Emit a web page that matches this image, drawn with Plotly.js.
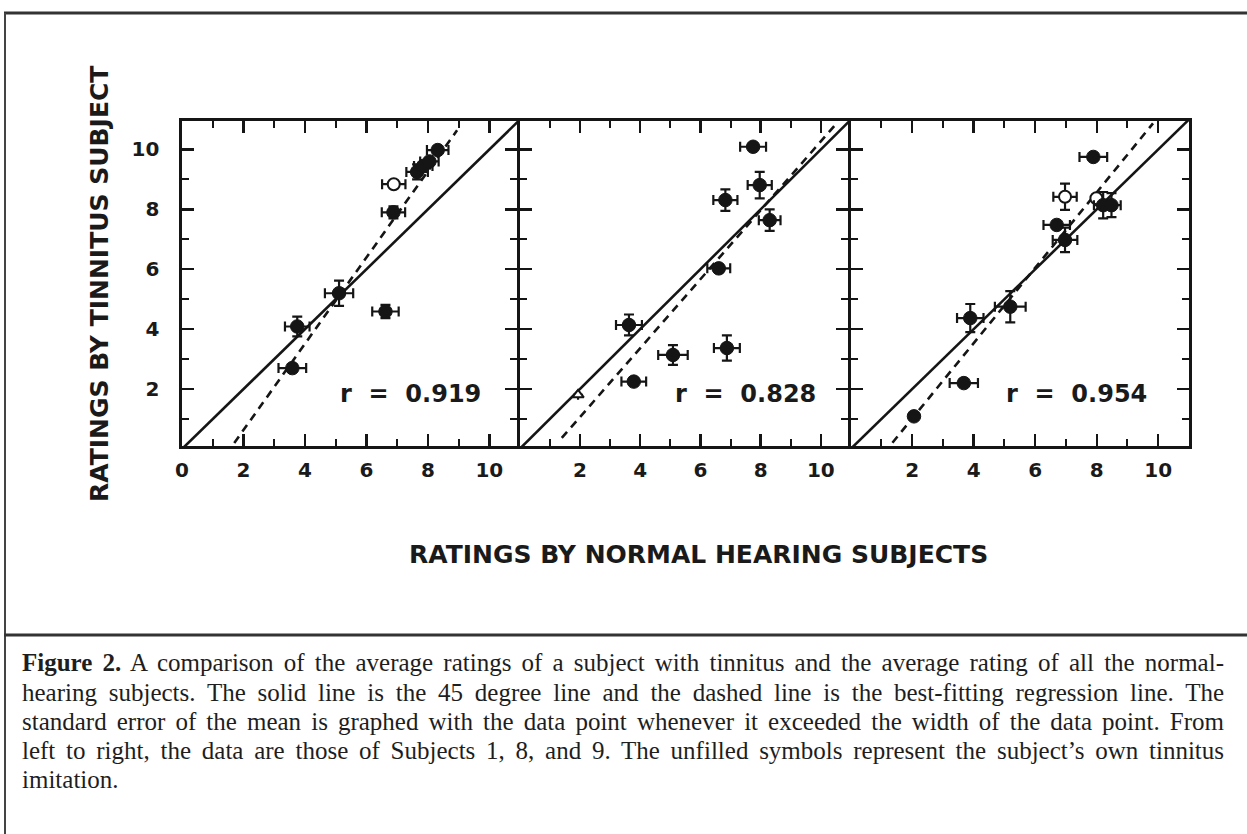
<!DOCTYPE html>
<html>
<head>
<meta charset="utf-8">
<script src="https://cdn.plot.ly/plotly-3.0.1.min.js"></script>
<style>
  html, body { margin: 0; padding: 0; background: #ffffff; }
  #chart { width: 1247px; height: 834px; }
</style>
</head>
<body>
<div id="chart"></div>
<script>
// ---------------- DATA ----------------
// Subject 1
const s1FilledX  = [8.32, 7.65, 7.85, 8.05, 6.88, 5.11, 3.75, 6.62, 3.59];
const s1FilledY  = [9.98, 9.25, 9.45, 9.60, 7.90, 5.20, 4.09, 4.59, 2.70];
const s1FilledEx = [0.35, 0.35, 0.30, 0.30, 0.38, 0.46, 0.40, 0.43, 0.45];
const s1FilledEy = [null, 0.25, null, null, 0.20, 0.42, 0.33, 0.22, 0.12];
const s1OpenX  = [6.89];
const s1OpenY  = [8.84];
const s1OpenEx = [0.38];
const s1OpenEy = [null];
const s1FitX = [1.70, 8.95];
const s1FitY = [0.20, 10.64];

// Subject 8
const s8FilledX  = [7.75, 7.97, 6.83, 8.30, 6.61, 3.63, 5.09, 6.88, 3.79];
const s8FilledY  = [10.09, 8.81, 8.31, 7.64, 6.03, 4.14, 3.14, 3.37, 2.25];
const s8FilledEx = [0.43, 0.40, 0.40, 0.36, 0.38, 0.43, 0.49, 0.43, 0.41];
const s8FilledEy = [null, 0.44, 0.36, 0.36, 0.12, 0.35, 0.33, 0.42, null];
const s8OpenX  = [1.94];
const s8OpenY  = [1.81];
const s8OpenEx = [null];
const s8OpenEy = [null];
const s8FitX = [1.40, 10.52];
const s8FitY = [0.37, 10.87];

// Subject 9
const s9FilledX  = [7.89, 8.21, 8.48, 6.70, 6.97, 5.19, 3.89, 3.68, 2.06];
const s9FilledY  = [9.75, 8.14, 8.14, 7.48, 6.98, 4.75, 4.37, 2.20, 1.09];
const s9FilledEx = [0.45, 0.30, 0.30, 0.43, 0.40, 0.50, 0.43, 0.46, null];
const s9FilledEy = [null, 0.44, 0.40, null, 0.41, 0.52, 0.47, null, null];
const s9OpenX  = [6.97, 7.99];
const s9OpenY  = [8.42, 8.37];
const s9OpenEx = [0.38, null];
const s9OpenEy = [0.44, null];
const s9FitX = [1.36, 9.83];
const s9FitY = [0.21, 10.87];

const identityLine = [0, 12];
const rLabels = ['r = 0.919', 'r = 0.828', 'r = 0.954'];
const majorTicks = [0, 2, 4, 6, 8, 10];
const xTickTextFirst = ['0', '2', '4', '6', '8', '10'];
const xTickTextOther = ['', '2', '4', '6', '8', '10'];
const yTickText = ['', '2', '4', '6', '8', '10'];
const xTitle = 'RATINGS BY NORMAL HEARING SUBJECTS';
const yTitle = 'RATINGS BY TINNITUS SUBJECT';
const captionLines = [
  '<b>Figure 2.</b> A comparison of the average ratings of a subject with tinnitus and the average rating of all the normal-',
  'hearing subjects. The solid line is the 45 degree line and the dashed line is the best-fitting regression line. The',
  'standard error of the mean is graphed with the data point whenever it exceeded the width of the data point. From',
  'left to right, the data are those of Subjects 1, 8, and 9. The unfilled symbols represent the subject\u2019s own tinnitus',
  'imitation.'
];

// ---------------- STYLE / LAYOUT ----------------
const W = 1247, H = 834;
const px = v => v / W;
const py = v => 1 - v / H;
const INK = '#151515';
const LW = 2.6;

const panels = [
  {fx: s1FilledX, fy: s1FilledY, fex: s1FilledEx, fey: s1FilledEy,
   ox: s1OpenX, oy: s1OpenY, oex: s1OpenEx, oey: s1OpenEy, osym: 'circle',
   fitx: s1FitX, fity: s1FitY, dom: [182, 517], xmax: 10.9, rx: 410},
  {fx: s8FilledX, fy: s8FilledY, fex: s8FilledEx, fey: s8FilledEy,
   ox: s8OpenX, oy: s8OpenY, oex: s8OpenEx, oey: s8OpenEy, osym: 'triangle-up',
   fitx: s8FitX, fity: s8FitY, dom: [517 + LW, 848], xmax: 10.9, rx: 745},
  {fx: s9FilledX, fy: s9FilledY, fex: s9FilledEx, fey: s9FilledEy,
   ox: s9OpenX, oy: s9OpenY, oex: s9OpenEx, oey: s9OpenEy, osym: 'circle',
   fitx: s9FitX, fity: s9FitY, dom: [848 + LW, 1189], xmax: 11.0, rx: 1076}
];

const traces = [];
const layout = {
  width: W, height: H,
  margin: {l: 0, r: 0, t: 0, b: 0},
  paper_bgcolor: '#ffffff',
  plot_bgcolor: 'rgba(0,0,0,0)',
  showlegend: false,
  annotations: [],
  shapes: []
};

const tickFont = {family: 'DejaVu Sans', size: 20, color: '#1a1a1a', weight: 'bold'};

panels.forEach((p, i) => {
  const n = i === 0 ? '' : String(i + 1);
  const xa = 'x' + n, ya = 'y' + n;
  const errX = arr => ({type: 'data', array: arr, visible: true, color: INK, thickness: 2.2, width: 5});

  traces.push({x: identityLine, y: identityLine, xaxis: xa, yaxis: ya, mode: 'lines',
    line: {color: INK, width: 2.6}, hoverinfo: 'skip'});
  traces.push({x: p.fitx, y: p.fity, xaxis: xa, yaxis: ya, mode: 'lines',
    line: {color: INK, width: 2.6, dash: '8px,6px'}, hoverinfo: 'skip'});
  traces.push({x: p.ox, y: p.oy, xaxis: xa, yaxis: ya, mode: 'markers',
    marker: {symbol: p.osym, size: p.osym === 'circle' ? 12 : 10, color: '#ffffff', line: {color: INK, width: 2}},
    error_x: errX(p.oex), error_y: errX(p.oey)});
  traces.push({x: p.fx, y: p.fy, xaxis: xa, yaxis: ya, mode: 'markers',
    marker: {symbol: 'circle', size: 13.5, color: INK, line: {color: INK, width: 1}},
    error_x: errX(p.fex), error_y: errX(p.fey)});

  const common = {
    showgrid: false, zeroline: false, showline: true, linecolor: INK, linewidth: LW,
    mirror: 'ticks', ticks: 'inside', ticklen: 12, tickwidth: 2.4, tickcolor: INK,
    tickmode: 'array', tickvals: majorTicks, tickfont: tickFont, fixedrange: true,
    minor: {ticks: 'inside', tickmode: 'linear', tick0: 0, dtick: 1, ticklen: 7, tickwidth: 2,
            tickcolor: INK, showgrid: false}
  };
  layout['xaxis' + n] = Object.assign({}, common, {
    domain: [px(p.dom[0]), px(p.dom[1])], range: [0, p.xmax], anchor: ya,
    ticktext: i === 0 ? xTickTextFirst : xTickTextOther, ticklabelstandoff: 4
  });
  layout['yaxis' + n] = Object.assign({}, common, {
    domain: [py(446), py(121)], range: [0.1, 10.95], anchor: xa,
    ticktext: yTickText, showticklabels: i === 0, ticklabelstandoff: 16
  });

  layout.annotations.push({xref: 'paper', yref: 'paper', x: px(p.rx), y: py(394),
    text: rLabels[i].replace(/ /g, '\u00A0\u00A0'), showarrow: false, xanchor: 'center', yanchor: 'middle',
    font: {family: 'DejaVu Sans', size: 24, color: '#1a1a1a', weight: 'bold'}});
});

// axis titles
layout.annotations.push({xref: 'paper', yref: 'paper', x: px(699), y: py(554), text: xTitle,
  showarrow: false, xanchor: 'center', yanchor: 'middle',
  font: {family: 'DejaVu Sans', size: 25, color: '#1a1a1a', weight: 'bold'}});
layout.annotations.push({xref: 'paper', yref: 'paper', x: px(99), y: py(284), text: yTitle,
  showarrow: false, xanchor: 'center', yanchor: 'middle', textangle: -90,
  font: {family: 'DejaVu Sans', size: 25, color: '#1a1a1a', weight: 'bold'}});

// caption
const captionStart = layout.annotations.length;
const captionY = [662, 692, 721, 750, 779];
captionLines.forEach((t, k) => {
  layout.annotations.push({xref: 'paper', yref: 'paper', x: px(20), y: py(captionY[k]), text: t,
    showarrow: false, xanchor: 'left', yanchor: 'middle', align: 'left',
    font: {family: 'Liberation Serif', size: 25, color: '#1e1e1e'}});
});

// frame rules
layout.shapes.push({type: 'line', xref: 'paper', yref: 'paper', x0: px(4), x1: 1, y0: py(13), y1: py(13),
  line: {color: '#333', width: 3}});
layout.shapes.push({type: 'line', xref: 'paper', yref: 'paper', x0: px(5), x1: px(5), y0: py(13), y1: 0,
  line: {color: '#444', width: 2}});
layout.shapes.push({type: 'line', xref: 'paper', yref: 'paper', x0: px(4), x1: 1, y0: py(635), y1: py(635),
  line: {color: '#333', width: 3}});

Plotly.newPlot('chart', traces, layout, {displayModeBar: false, staticPlot: true}).then(() => {
  // justify the full caption lines (all but the last) by widening the word gaps
  const JUSTIFY = 1202;
  for (let k = 0; k < captionLines.length - 1; k++) {
    const el = document.querySelector('g.annotation[data-index="' + (captionStart + k) + '"] text.annotation-text');
    if (!el) continue;
    const natural = el.getComputedTextLength();
    const gaps = (el.textContent.match(/ /g) || []).length;
    if (gaps > 0 && natural < JUSTIFY) {
      el.setAttribute('word-spacing', ((JUSTIFY - natural) / gaps).toFixed(3));
    }
  }
});
</script>
</body>
</html>
